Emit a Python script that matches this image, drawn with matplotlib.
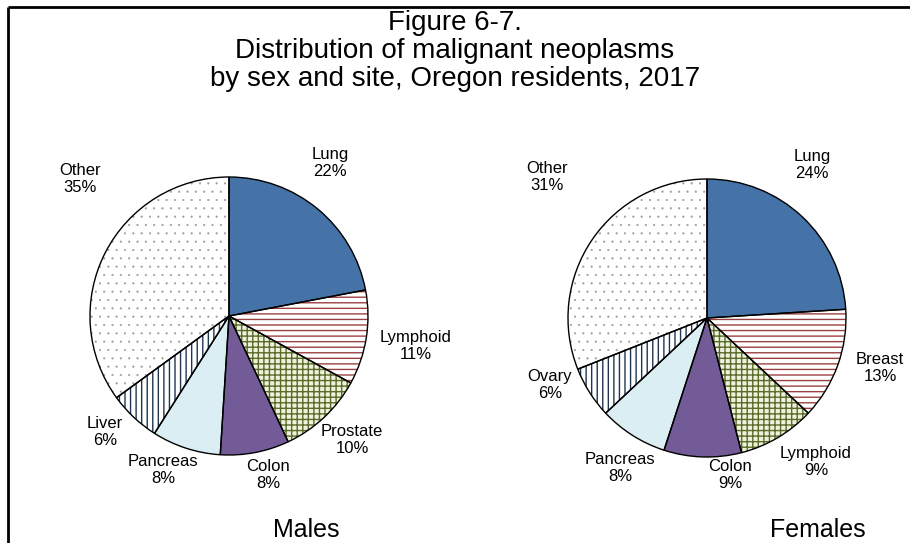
import matplotlib
matplotlib.use("Agg")
import matplotlib.pyplot as plt

plt.rcParams['font.family'] = ['Liberation Sans', 'DejaVu Sans']
plt.rcParams['hatch.linewidth'] = 1.0

# data
male_sites = ['Lung', 'Lymphoid', 'Prostate', 'Colon', 'Pancreas', 'Liver', 'Other']
male_pct = [22, 11, 10, 8, 8, 6, 35]
female_sites = ['Lung', 'Breast', 'Lymphoid', 'Colon', 'Pancreas', 'Ovary', 'Other']
female_pct = [24, 13, 9, 9, 8, 6, 31]

title = "Figure 6-7.\nDistribution of malignant neoplasms\nby sex and site, Oregon residents, 2017"

# styles per slice position (face, hatch, hatch colour)
styles = [
    ('#4572A7', None, '#4572A7'),
    ('white', '---', '#9B4040'),
    ('#EEF2DC', '+++', '#5A6B2A'),
    ('#725B96', None, '#725B96'),
    ('#DBEEF4', None, '#DBEEF4'),
    ('white', '|||', '#1F3550'),
    ('white', '..', '#9A9A9A'),
]

W, H = 910, 543
fig = plt.figure(figsize=(W / 100, H / 100), dpi=100)
ax = fig.add_axes([0, 0, 1, 1])

# label positions in pixels (x, y from top)
male_lbl = [(330, 163), (416, 346), (352, 440), (268, 475), (163, 470), (105, 432), (80, 179)]
female_lbl = [(812, 165), (880, 368), (816, 462), (730, 475), (620, 468), (550, 385), (547, 177)]


def draw_pie(vals, names, cx, cy, r, lbl_pos, caption, cap_x):
    center = (cx, H - cy)
    wedges, _ = ax.pie(vals, center=center, radius=r, startangle=90,
                       counterclock=False, frame=True)
    for w, (fc, hatch, hc) in zip(wedges, styles):
        w.set_facecolor(fc)
        w.set_edgecolor(hc)
        w.set_linewidth(0)
        if hatch:
            w.set_hatch(hatch)
            if hatch == '..' and hasattr(w, 'set_hatch_linewidth'):
                w.set_hatch_linewidth(0.3)
    # black outlines
    ax.pie(vals, center=center, radius=r, startangle=90,
           counterclock=False, frame=True,
           wedgeprops=dict(facecolor='none', edgecolor='black', linewidth=1.0))
    for name, v, (lx, ly) in zip(names, vals, lbl_pos):
        ax.text(lx, H - ly, f"{name}\n{v}%", ha='center', va='center',
                fontsize=12, linespacing=1.2)
    ax.text(cap_x, H - 530, caption, ha='center', va='center', fontsize=18)


draw_pie(male_pct, male_sites, 229, 316, 139, male_lbl, 'Males', 306)
draw_pie(female_pct, female_sites, 707, 318, 139, female_lbl, 'Females', 818)

ax.set_xlim(0, W)
ax.set_ylim(0, H)
ax.set_aspect('equal')
ax.axis('off')

ax.text(455, H - 51, title, ha='center', va='center', fontsize=20, linespacing=1.1)

# frame lines (top and left)
ax.plot([8, W], [H - 7, H - 7], color='black', lw=2, solid_capstyle='butt')
ax.plot([8, 8], [H - 7, 0], color='black', lw=2, solid_capstyle='butt')

fig.savefig('out.png', dpi=100)
